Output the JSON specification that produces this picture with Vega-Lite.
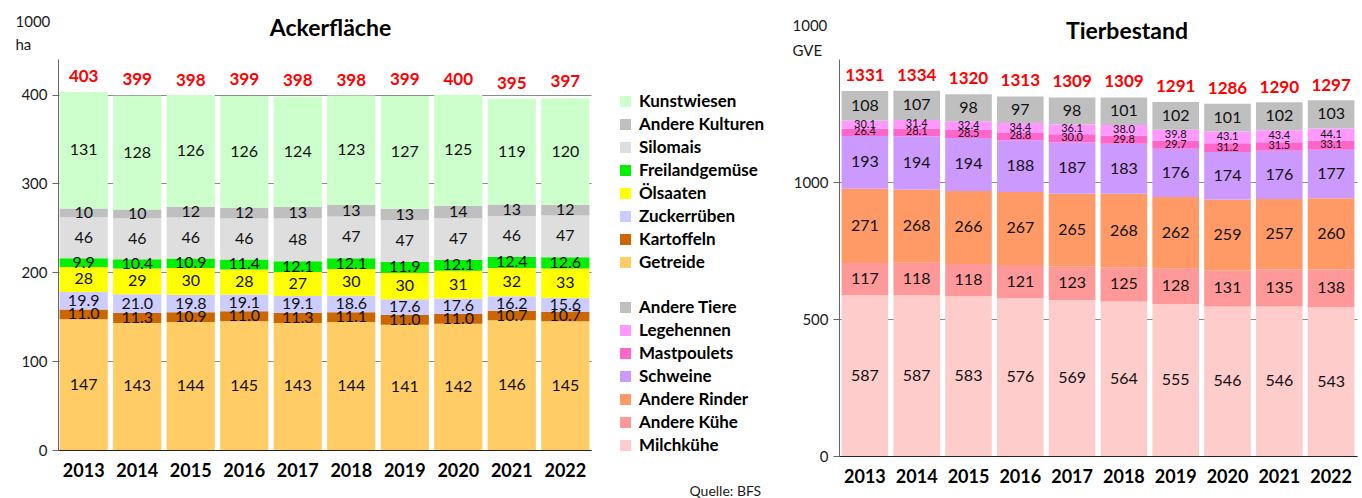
{
  "$schema": "https://vega.github.io/schema/vega-lite/v6.json",
  "background": "white",
  "padding": {"left": 15, "top": 14, "right": 5, "bottom": 2},
  "config": {
    "font": "Lato",
    "view": {"stroke": null},
    "axis": {"labelFont": "Lato", "titleFont": "Lato", "labelColor": "#1a1a1a", "titleColor": "#1a1a1a"},
    "legend": {"labelFont": "Lato", "labelFontSize": 17, "labelFontWeight": "bold", "labelColor": "#000", "symbolType": "square", "symbolSize": 121, "symbolStrokeWidth": 0, "symbolOpacity": 1, "rowPadding": 5, "labelOffset": 5, "padding": 0, "title": null},
    "text": {"font": "Lato"}
  },
  "datasets": {
    "acker": [
      {"Jahr": "2013", "Getreide": 147, "Kartoffeln": 11.0, "Zuckerrüben": 19.9, "Ölsaaten": 28, "Freilandgemüse": 9.9, "Silomais": 46, "Andere Kulturen": 10, "Kunstwiesen": 131, "Total": 403},
      {"Jahr": "2014", "Getreide": 143, "Kartoffeln": 11.3, "Zuckerrüben": 21.0, "Ölsaaten": 29, "Freilandgemüse": 10.4, "Silomais": 46, "Andere Kulturen": 10, "Kunstwiesen": 128, "Total": 399},
      {"Jahr": "2015", "Getreide": 144, "Kartoffeln": 10.9, "Zuckerrüben": 19.8, "Ölsaaten": 30, "Freilandgemüse": 10.9, "Silomais": 46, "Andere Kulturen": 12, "Kunstwiesen": 126, "Total": 398},
      {"Jahr": "2016", "Getreide": 145, "Kartoffeln": 11.0, "Zuckerrüben": 19.1, "Ölsaaten": 28, "Freilandgemüse": 11.4, "Silomais": 46, "Andere Kulturen": 12, "Kunstwiesen": 126, "Total": 399},
      {"Jahr": "2017", "Getreide": 143, "Kartoffeln": 11.3, "Zuckerrüben": 19.1, "Ölsaaten": 27, "Freilandgemüse": 12.1, "Silomais": 48, "Andere Kulturen": 13, "Kunstwiesen": 124, "Total": 398},
      {"Jahr": "2018", "Getreide": 144, "Kartoffeln": 11.1, "Zuckerrüben": 18.6, "Ölsaaten": 30, "Freilandgemüse": 12.1, "Silomais": 47, "Andere Kulturen": 13, "Kunstwiesen": 123, "Total": 398},
      {"Jahr": "2019", "Getreide": 141, "Kartoffeln": 11.0, "Zuckerrüben": 17.6, "Ölsaaten": 30, "Freilandgemüse": 11.9, "Silomais": 47, "Andere Kulturen": 13, "Kunstwiesen": 127, "Total": 399},
      {"Jahr": "2020", "Getreide": 142, "Kartoffeln": 11.0, "Zuckerrüben": 17.6, "Ölsaaten": 31, "Freilandgemüse": 12.1, "Silomais": 47, "Andere Kulturen": 14, "Kunstwiesen": 125, "Total": 400},
      {"Jahr": "2021", "Getreide": 146, "Kartoffeln": 10.7, "Zuckerrüben": 16.2, "Ölsaaten": 32, "Freilandgemüse": 12.4, "Silomais": 46, "Andere Kulturen": 13, "Kunstwiesen": 119, "Total": 395},
      {"Jahr": "2022", "Getreide": 145, "Kartoffeln": 10.7, "Zuckerrüben": 15.6, "Ölsaaten": 33, "Freilandgemüse": 12.6, "Silomais": 47, "Andere Kulturen": 12, "Kunstwiesen": 120, "Total": 397}
    ],
    "tiere": [
      {"Jahr": "2013", "Milchkühe": 587, "Andere Kühe": 117, "Andere Rinder": 271, "Schweine": 193, "Mastpoulets": 26.4, "Legehennen": 30.1, "Andere Tiere": 108, "Total": 1331},
      {"Jahr": "2014", "Milchkühe": 587, "Andere Kühe": 118, "Andere Rinder": 268, "Schweine": 194, "Mastpoulets": 28.1, "Legehennen": 31.4, "Andere Tiere": 107, "Total": 1334},
      {"Jahr": "2015", "Milchkühe": 583, "Andere Kühe": 118, "Andere Rinder": 266, "Schweine": 194, "Mastpoulets": 28.5, "Legehennen": 32.4, "Andere Tiere": 98, "Total": 1320},
      {"Jahr": "2016", "Milchkühe": 576, "Andere Kühe": 121, "Andere Rinder": 267, "Schweine": 188, "Mastpoulets": 28.8, "Legehennen": 34.4, "Andere Tiere": 97, "Total": 1313},
      {"Jahr": "2017", "Milchkühe": 569, "Andere Kühe": 123, "Andere Rinder": 265, "Schweine": 187, "Mastpoulets": 30.0, "Legehennen": 36.1, "Andere Tiere": 98, "Total": 1309},
      {"Jahr": "2018", "Milchkühe": 564, "Andere Kühe": 125, "Andere Rinder": 268, "Schweine": 183, "Mastpoulets": 29.8, "Legehennen": 38.0, "Andere Tiere": 101, "Total": 1309},
      {"Jahr": "2019", "Milchkühe": 555, "Andere Kühe": 128, "Andere Rinder": 262, "Schweine": 176, "Mastpoulets": 29.7, "Legehennen": 39.8, "Andere Tiere": 102, "Total": 1291},
      {"Jahr": "2020", "Milchkühe": 546, "Andere Kühe": 131, "Andere Rinder": 259, "Schweine": 174, "Mastpoulets": 31.2, "Legehennen": 43.1, "Andere Tiere": 101, "Total": 1286},
      {"Jahr": "2021", "Milchkühe": 546, "Andere Kühe": 135, "Andere Rinder": 257, "Schweine": 176, "Mastpoulets": 31.5, "Legehennen": 43.4, "Andere Tiere": 102, "Total": 1290},
      {"Jahr": "2022", "Milchkühe": 543, "Andere Kühe": 138, "Andere Rinder": 260, "Schweine": 177, "Mastpoulets": 33.1, "Legehennen": 44.1, "Andere Tiere": 103, "Total": 1297}
    ]
  },
  "bounds": "flush",
  "spacing": 248,
  "resolve": {"scale": {"color": "independent", "y": "independent", "x": "independent"}},
  "hconcat": [
    {
      "width": 533,
      "height": 391,
      "data": {"name": "acker"},
      "title": {"text": "Ackerfläche", "fontSize": 23, "fontWeight": "bold", "font": "Lato", "color": "#000", "offset": -27, "dx": 6},
      "encoding": {
        "x": {"field": "Jahr", "type": "ordinal", "scale": {"paddingInner": 0.1, "paddingOuter": 0.03},
          "axis": {"title": null, "labelAngle": 0, "labelFontSize": 18, "labelFontWeight": "bold", "labelColor": "#000", "ticks": false, "domainColor": "#222", "labelPadding": 12}}
      },
      "layer": [
        {
          "transform": [
            {"fold": ["Getreide", "Kartoffeln", "Zuckerrüben", "Ölsaaten", "Freilandgemüse", "Silomais", "Andere Kulturen", "Kunstwiesen"], "as": ["c", "v"]},
            {"calculate": "indexof(['Kunstwiesen','Andere Kulturen','Silomais','Freilandgemüse','Ölsaaten','Zuckerrüben','Kartoffeln','Getreide'], datum.c)", "as": "o"}
          ],
          "mark": {"type": "bar"},
          "encoding": {
            "y": {"field": "v", "type": "quantitative", "stack": "zero", "scale": {"domain": [0, 440], "nice": false},
              "axis": {"values": [0, 100, 200, 300, 400], "format": "d", "title": ["1000", "ha"], "titleAngle": 0, "titleAlign": "left", "titleBaseline": "top", "titleX": -43, "titleY": -45, "titleFontSize": 15, "titleFontWeight": "normal", "titleLineHeight": 23, "labelFontSize": 15, "labelPadding": 5, "tickSize": 6, "tickColor": "#666", "domainColor": "#666", "grid": true, "gridColor": "#8c8c8c"}},
            "color": {"field": "c", "type": "nominal",
              "scale": {"domain": ["Kunstwiesen", "Andere Kulturen", "Silomais", "Freilandgemüse", "Ölsaaten", "Zuckerrüben", "Kartoffeln", "Getreide"],
                "range": ["#ccffcc", "#bfbfbf", "#dedede", "#00f000", "#ffff00", "#ccccff", "#cc6600", "#ffcc66"]},
              "legend": {"orient": "none", "legendX": 559, "legendY": 34, "direction": "vertical"}},
            "order": {"field": "o", "sort": "descending"}
          }
        },
        {
          "transform": [
            {"fold": ["Getreide", "Kartoffeln", "Zuckerrüben", "Ölsaaten", "Freilandgemüse", "Silomais", "Andere Kulturen", "Kunstwiesen"], "as": ["c", "v"]},
            {"calculate": "indexof(['Kunstwiesen','Andere Kulturen','Silomais','Freilandgemüse','Ölsaaten','Zuckerrüben','Kartoffeln','Getreide'], datum.c)", "as": "o"},
            {"calculate": "indexof(['Freilandgemüse','Kartoffeln','Zuckerrüben'], datum.c) >= 0 ? format(datum.v, '.1f') : format(datum.v, '.0f')", "as": "t"}
          ],
          "mark": {"type": "text", "fontSize": 16, "color": "#111", "baseline": "middle"},
          "encoding": {
            "y": {"field": "v", "type": "quantitative", "stack": "zero", "bandPosition": 0.5},
            "detail": {"field": "c"},
            "order": {"field": "o", "sort": "descending"},
            "text": {"field": "t"}
          }
        },
        {
          "mark": {"type": "text", "fontSize": 17, "fontWeight": "bold", "color": "#ff0000", "baseline": "middle", "dy": -15},
          "encoding": {
            "y": {"field": "Total", "type": "quantitative"},
            "text": {"field": "Total"}
          }
        }
      ]
    },
    {
      "width": 518,
      "height": 397,
      "data": {"name": "tiere"},
      "title": {"text": "Tierbestand", "fontSize": 23, "fontWeight": "bold", "font": "Lato", "color": "#000", "offset": -26, "dx": 29},
      "encoding": {
        "x": {"field": "Jahr", "type": "ordinal", "scale": {"paddingInner": 0.1, "paddingOuter": 0.05},
          "axis": {"title": "Quelle: BFS", "titleX": -150, "titleY": 35, "titleAnchor": "start", "titleAlign": "left", "titleBaseline": "middle", "titleFontSize": 14, "titleFontWeight": "normal", "labelAngle": 0, "labelFontSize": 18, "labelFontWeight": "bold", "labelColor": "#000", "ticks": false, "domainColor": "#222", "labelPadding": 12}}
      },
      "layer": [
        {
          "transform": [
            {"fold": ["Milchkühe", "Andere Kühe", "Andere Rinder", "Schweine", "Mastpoulets", "Legehennen", "Andere Tiere"], "as": ["c", "v"]},
            {"calculate": "indexof(['Andere Tiere','Legehennen','Mastpoulets','Schweine','Andere Rinder','Andere Kühe','Milchkühe'], datum.c)", "as": "o"}
          ],
          "mark": {"type": "bar"},
          "encoding": {
            "y": {"field": "v", "type": "quantitative", "stack": "zero", "scale": {"domain": [0, 1449], "nice": false},
              "axis": {"values": [0, 500, 1000], "format": "d", "title": ["1000", "GVE"], "titleAngle": 0, "titleAlign": "left", "titleBaseline": "top", "titleX": -47, "titleY": -41, "titleFontSize": 15, "titleFontWeight": "normal", "titleLineHeight": 25, "labelFontSize": 15, "labelPadding": 5, "tickSize": 6, "tickColor": "#666", "domainColor": "#666", "grid": true, "gridColor": "#8c8c8c"}},
            "color": {"field": "c", "type": "nominal",
              "scale": {"domain": ["Andere Tiere", "Legehennen", "Mastpoulets", "Schweine", "Andere Rinder", "Andere Kühe", "Milchkühe"],
                "range": ["#bfbfbf", "#ff99ff", "#ff66cc", "#cc99ff", "#ff9966", "#ff9999", "#ffcccc"]},
              "legend": {"orient": "none", "legendX": -222, "legendY": 240, "direction": "vertical"}},
            "order": {"field": "o", "sort": "descending"}
          }
        },
        {
          "transform": [
            {"fold": ["Milchkühe", "Andere Kühe", "Andere Rinder", "Schweine", "Mastpoulets", "Legehennen", "Andere Tiere"], "as": ["c", "v"]},
            {"calculate": "indexof(['Andere Tiere','Legehennen','Mastpoulets','Schweine','Andere Rinder','Andere Kühe','Milchkühe'], datum.c)", "as": "o"},
            {"calculate": "indexof(['Mastpoulets','Legehennen'], datum.c) >= 0 ? format(datum.v, '.1f') : format(datum.v, '.0f')", "as": "t"}
          ],
          "mark": {"type": "text", "color": "#111", "baseline": "middle"},
          "encoding": {
            "y": {"field": "v", "type": "quantitative", "stack": "zero", "bandPosition": 0.5},
            "detail": {"field": "c"},
            "order": {"field": "o", "sort": "descending"},
            "size": {"condition": {"test": "datum.c === 'Mastpoulets' || datum.c === 'Legehennen'", "value": 11}, "value": 16},
            "text": {"field": "t"}
          }
        },
        {
          "mark": {"type": "text", "fontSize": 17, "fontWeight": "bold", "color": "#ff0000", "baseline": "middle", "dy": -15},
          "encoding": {
            "y": {"field": "Total", "type": "quantitative"},
            "text": {"field": "Total"}
          }
        }
      ]
    }
  ]
}
